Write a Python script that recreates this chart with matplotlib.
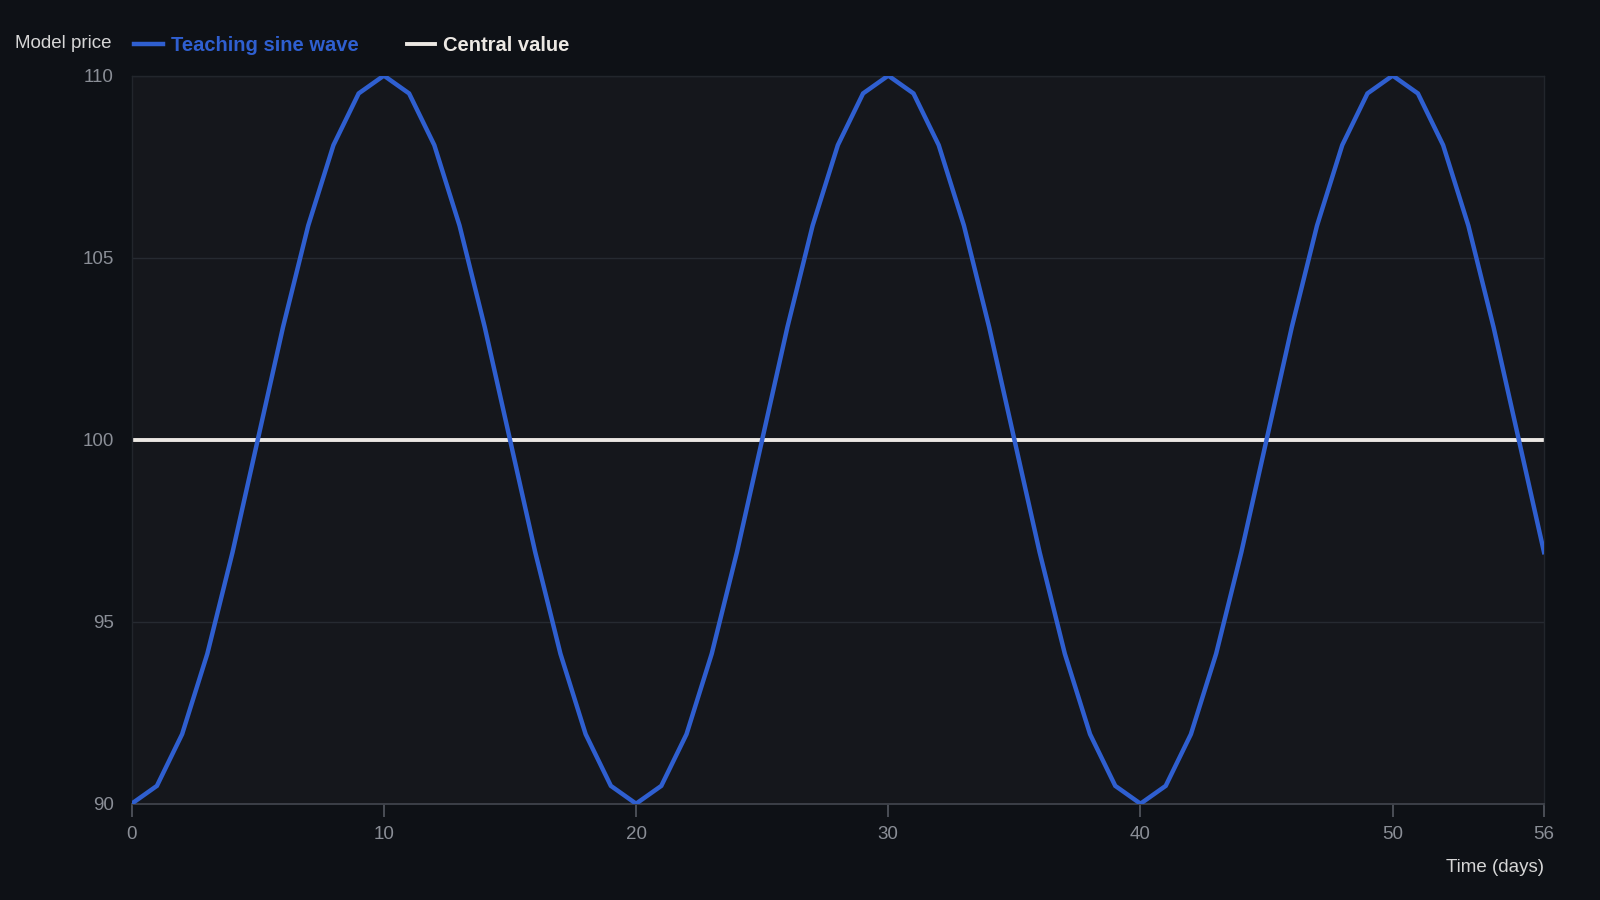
import matplotlib
matplotlib.use("Agg")
import matplotlib.pyplot as plt

days = list(range(0, 57))
price = [90.00, 90.49, 91.91, 94.12, 96.91, 100.00, 103.09, 105.88, 108.09, 109.51,
         110.00, 109.51, 108.09, 105.88, 103.09, 100.00, 96.91, 94.12, 91.91, 90.49,
         90.00, 90.49, 91.91, 94.12, 96.91, 100.00, 103.09, 105.88, 108.09, 109.51,
         110.00, 109.51, 108.09, 105.88, 103.09, 100.00, 96.91, 94.12, 91.91, 90.49,
         90.00, 90.49, 91.91, 94.12, 96.91, 100.00, 103.09, 105.88, 108.09, 109.51,
         110.00, 109.51, 108.09, 105.88, 103.09, 100.00, 96.91]
central = [100.0] * len(days)
xticks = [0, 10, 20, 30, 40, 50, 56]
yticks = [90, 95, 100, 105, 110]

BG = "#0e1116"
AX_BG = "#15171c"
BLUE = "#2f5fd0"
WHITE = "#ece8e3"
TICK = "#8a8e96"

plt.rcParams['font.family'] = ['Liberation Sans', 'DejaVu Sans']

fig = plt.figure(figsize=(16, 9), dpi=100, facecolor=BG)
ax = fig.add_axes([0.0823, 0.107, 0.965 - 0.0823, 0.916 - 0.107])
ax.set_facecolor(AX_BG)

ax.plot(days, price, color=BLUE, lw=3.2, solid_joinstyle='miter', zorder=3,
        label="Teaching sine wave")
ax.plot(days, central, color=WHITE, lw=2.8, zorder=2, label="Central value")

ax.set_xlim(0, 56)
ax.set_ylim(90, 110)
ax.set_xticks(xticks)
ax.set_yticks(yticks)
ax.grid(axis='y', color="#262a31", lw=1.0)
for s in ['top', 'right', 'left']:
    ax.spines[s].set_color("#22262c")
    ax.spines[s].set_linewidth(1.0)
ax.spines['bottom'].set_color("#3c4048")
ax.spines['bottom'].set_linewidth(1.4)
ax.tick_params(axis='x', colors="#4a4e56", length=9, width=1.4, labelcolor=TICK,
               labelsize=13.5, pad=7)
ax.tick_params(axis='y', length=0, labelcolor=TICK, labelsize=13.5, pad=13)

fig.text(1513 / 1568, 1 - 850 / 882, "Time (days)", color="#d6d6d6", fontsize=13.5,
         ha='right', va='center')
fig.text(15 / 1568, 1 - 43 / 882, "Model price", color="#d6d6d6", fontsize=13.5,
         ha='left', va='center')

leg = ax.legend(loc='center left', bbox_to_anchor=(114 / 1568, 1 - 45 / 882),
                bbox_transform=fig.transFigure, ncol=2, frameon=False,
                handlelength=1.4, handletextpad=0.4, columnspacing=2.4,
                prop={'size': 14.5, 'weight': 'bold'})
for txt, col in zip(leg.get_texts(), [BLUE, WHITE]):
    txt.set_color(col)

fig.savefig("out.png", dpi=100, facecolor=BG)
